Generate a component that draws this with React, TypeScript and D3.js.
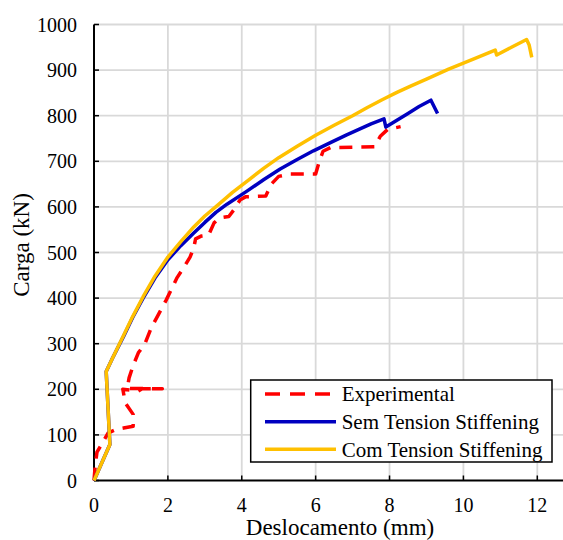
import React from "react";
import * as d3 from "d3";

const xTicks = [0, 2, 4, 6, 8, 10, 12];
const yTicks = [0, 100, 200, 300, 400, 500, 600, 700, 800, 900, 1000];

const seriesNames = ["Experimental", "Sem Tension Stiffening", "Com Tension Stiffening"];

const expX = [0, 0.03, 0.08, 0.38, 0.6, 0.8, 1.06, 1.06, 0.85, 0.78, 1.2, 1.3, 1.85, 0.9, 0.95, 1.05, 1.2, 1.38, 1.55, 1.75, 1.95, 2.1, 2.25, 2.45, 2.6, 2.7, 2.75, 2.9, 3.1, 3.25, 3.4, 3.65, 3.8, 3.95, 4.1, 4.65, 4.8, 5.0, 5.3, 6.0, 6.1, 6.2, 6.4, 7.6, 7.75, 7.95, 8.3];
const expY = [0, 30, 62, 104, 112, 115, 119, 145, 170, 200, 196, 201, 201, 202, 225, 250, 280, 300, 335, 365, 395, 420, 445, 470, 490, 510, 530, 536, 538, 565, 576, 579, 595, 615, 622, 624, 650, 667, 672, 672, 700, 722, 730, 732, 755, 770, 776];

const semX = [0, 0.43, 0.33, 0.5, 0.8, 1.05, 1.33, 1.65, 2.0, 2.35, 2.7, 3.0, 3.3, 3.6, 4.13, 4.6, 5.04, 5.5, 5.94, 6.4, 6.84, 7.2, 7.5, 7.85, 7.9, 8.2, 8.5, 8.8, 9.12, 9.3];
const semY = [0, 79, 239, 268, 316, 358, 400, 444, 484, 515, 543, 566, 588, 606, 634, 660, 683, 704, 723, 741, 758, 771, 782, 793, 775, 790, 805, 820, 834, 805];

const comX = [0, 0.43, 0.33, 0.5, 0.8, 1.05, 1.33, 1.65, 2.0, 2.35, 2.7, 3.0, 3.35, 3.75, 4.2, 4.6, 5.0, 5.5, 6.0, 6.5, 7.0, 7.4, 7.8, 8.2, 8.6, 9.0, 9.6, 10.3, 10.86, 10.9, 11.3, 11.71, 11.78, 11.85];
const comY = [0, 79, 239, 268, 318, 360, 403, 448, 490, 524, 556, 580, 604, 632, 660, 685, 708, 733, 757, 779, 800, 818, 835, 851, 866, 880, 902, 925, 944, 933, 950, 967, 955, 928];

const colors = ["#FF0000", "#0000C0", "#FFC000"];

export default function App() {
  const W = 563, H = 540;
  const x = d3.scaleLinear().domain([0, 12]).range([94, 537.3]);
  const y = d3.scaleLinear().domain([0, 1000]).range([480.5, 24.5]);
  const line = d3.line<[number, number]>().x(d => x(d[0])).y(d => y(d[1]));
  const series = [
    expX.map((v, i) => [v, expY[i]] as [number, number]),
    semX.map((v, i) => [v, semY[i]] as [number, number]),
    comX.map((v, i) => [v, comY[i]] as [number, number]),
  ];
  const font = '"Liberation Serif", "Times New Roman", Times, serif';
  const x0 = x(0), y0 = y(0), yTop = y(1000);
  const legendRows = [394, 421.7, 449.3];
  return (
    <svg width={W} height={H} style={{ position: "absolute", left: 0, top: 0, background: "#fff", fontFamily: font }}>
      <rect width={W} height={H} fill="#fff" />
      {yTicks.filter(t => t > 0).map(t => (
        <line key={"gy" + t} x1={x0} x2={W} y1={y(t)} y2={y(t)} stroke="#D9D9D9" strokeWidth={1.8} />
      ))}
      {xTicks.filter(t => t > 0).map(t => (
        <line key={"gx" + t} x1={x(t)} x2={x(t)} y1={yTop} y2={y0} stroke="#D9D9D9" strokeWidth={1.8} />
      ))}
      <line x1={x0} x2={x0} y1={yTop} y2={y0} stroke="#000" strokeWidth={2} />
      <line x1={x0} x2={W} y1={y0} y2={y0} stroke="#000" strokeWidth={2} />
      {yTicks.map(t => (
        <line key={"ty" + t} x1={x0} x2={x0 + 5} y1={y(t)} y2={y(t)} stroke="#000" strokeWidth={1.5} />
      ))}
      {xTicks.map(t => (
        <line key={"tx" + t} x1={x(t)} x2={x(t)} y1={y0} y2={y0 - 5} stroke="#000" strokeWidth={1.5} />
      ))}
      {yTicks.map(t => (
        <text key={"ly" + t} x={77} y={y(t)} dy="0.35em" textAnchor="end" fontSize={20} fill="#000" style={{ fontFamily: font }}>{t}</text>
      ))}
      {xTicks.map(t => (
        <text key={"lx" + t} x={x(t)} y={512} textAnchor="middle" fontSize={20} fill="#000" style={{ fontFamily: font }}>{t}</text>
      ))}
      <text x={340} y={535} textAnchor="middle" fontSize={23} fill="#000" style={{ fontFamily: font }}>Deslocamento (mm)</text>
      <text transform={`translate(29,245) rotate(-90)`} textAnchor="middle" fontSize={23} fill="#000" style={{ fontFamily: font }}>Carga (kN)</text>
      {series.map((s, i) => (
        <path key={"s" + i} d={line(s) || ""} fill="none" stroke={colors[i]} strokeWidth={3.5}
          strokeDasharray={i === 0 ? "13 9" : undefined} strokeLinejoin="round" />
      ))}
      <rect x={250.7} y={380} width={301.3} height={82} fill="#fff" stroke="#000" strokeWidth={1.5} />
      {seriesNames.map((n, i) => (
        <g key={"lg" + i}>
          <line x1={265} x2={336} y1={legendRows[i]} y2={legendRows[i]} stroke={colors[i]} strokeWidth={3.5}
            strokeDasharray={i === 0 ? "15 10" : undefined} />
          <text x={341.7} y={legendRows[i]} dy="0.35em" fontSize={21} fill="#000" style={{ fontFamily: font }}>{n}</text>
        </g>
      ))}
    </svg>
  );
}
